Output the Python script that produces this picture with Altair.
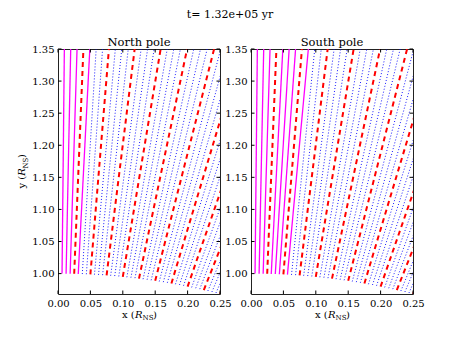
import altair as alt
import pandas as pd

suptitle = "t= 1.32e+05 yr"
panel_titles = ["North pole", "South pole"]

# field-line footpoints on the stellar surface and crossing x at y = 1.35
foot_x = [0.00625, 0.0125, 0.01875, 0.025, 0.03125, 0.0375, 0.04375, 0.05,
          0.05625, 0.0625, 0.06875, 0.075, 0.08125, 0.0875, 0.09375, 0.1,
          0.10625, 0.1125, 0.11875, 0.125, 0.13125, 0.1375, 0.14375, 0.15,
          0.15625, 0.1625, 0.16875, 0.175, 0.18125, 0.1875, 0.19375, 0.2,
          0.20625, 0.2125, 0.21875, 0.225, 0.23125, 0.2375, 0.24375, 0.25]
foot_y = [1.0000, 0.9999, 0.9998, 0.9997, 0.9995, 0.9993, 0.9990, 0.9987,
          0.9984, 0.9980, 0.9976, 0.9972, 0.9967, 0.9962, 0.9956, 0.9950,
          0.9943, 0.9937, 0.9929, 0.9922, 0.9913, 0.9905, 0.9896, 0.9887,
          0.9877, 0.9867, 0.9857, 0.9846, 0.9834, 0.9823, 0.9811, 0.9798,
          0.9785, 0.9772, 0.9758, 0.9744, 0.9729, 0.9714, 0.9698, 0.9682]
top_x = [0.0098, 0.0196, 0.0294, 0.0392, 0.0491, 0.0589, 0.0688, 0.0786,
         0.0885, 0.0984, 0.1084, 0.1183, 0.1283, 0.1383, 0.1484, 0.1584,
         0.1686, 0.1787, 0.1889, 0.1992, 0.2095, 0.2199, 0.2302, 0.2409,
         0.2512, 0.2619, 0.2725, 0.2833, 0.2941, 0.3050, 0.3160, 0.3271,
         0.3382, 0.3495, 0.3609, 0.3724, 0.3840, 0.3957, 0.4076, 0.4203]
top_y = [1.35] * 40

north_style = ["open", "open", "open", "mark", "open", "closed", "closed", "mark",
               "closed", "closed", "closed", "mark", "closed", "closed", "closed", "mark",
               "closed", "closed", "closed", "mark", "closed", "closed", "closed", "mark",
               "closed", "closed", "closed", "mark", "closed", "closed", "closed", "mark",
               "closed", "closed", "closed", "mark", "closed", "closed", "closed", "mark"]
south_style = ["open", "open", "open", "mark", "open", "open", "open", "mark",
               "open", "closed", "closed", "mark", "closed", "closed", "closed", "mark",
               "closed", "closed", "closed", "mark", "closed", "closed", "closed", "mark",
               "closed", "closed", "closed", "mark", "closed", "closed", "closed", "mark",
               "closed", "closed", "closed", "mark", "closed", "closed", "closed", "mark"]

x_ticks = [0.0, 0.05, 0.10, 0.15, 0.20, 0.25]
y_ticks = [1.00, 1.05, 1.10, 1.15, 1.20, 1.25, 1.30, 1.35]

W, H = 162, 245
FONT = "DejaVu Serif"
xscale = alt.Scale(domain=[0.0, 0.25], nice=False, zero=False)
yscale = alt.Scale(domain=[0.9682, 1.35], nice=False, zero=False)
xaxis = alt.Axis(values=x_ticks, format=".2f", title=None, labelOverlap=False, labelFlush=False)
yaxis = alt.Axis(values=y_ticks, format=".2f", title=None, labelOverlap=False, labelFlush=False)


def lines_df(styles):
    rows = []
    for i in range(len(foot_x)):
        rows.append({"line": i, "x": foot_x[i], "y": foot_y[i], "style": styles[i]})
        rows.append({"line": i, "x": top_x[i], "y": top_y[i], "style": styles[i]})
    return pd.DataFrame(rows)


def text_layer(txt, x, y, size=10, style="normal", angle=0, align="left", baseline="alphabetic"):
    return alt.Chart(alt.Data(values=[{"a": 1}])).mark_text(
        text=txt, font=FONT, fontSize=size, fontStyle=style, angle=angle,
        align=align, baseline=baseline, color="black"
    ).encode(x=alt.value(x), y=alt.value(y))


def panel(styles, title, left):
    df = lines_df(styles)
    base = alt.Chart(df)
    enc = dict(
        x=alt.X("x:Q", scale=xscale, axis=xaxis),
        y=alt.Y("y:Q", scale=yscale, axis=yaxis),
        detail="line:N",
        order=alt.Order("y:Q"),
    )
    blue = base.transform_filter(alt.datum.style == "closed").mark_line(
        color="#0000ff", strokeWidth=0.9, strokeDash=[1, 2], clip=True).encode(**enc)
    mag = base.transform_filter(alt.datum.style == "open").mark_line(
        color="#ff00ff", strokeWidth=1.3, clip=True).encode(**enc)
    red = base.transform_filter(alt.datum.style == "mark").mark_line(
        color="#ff0000", strokeWidth=2, strokeDash=[5, 4], clip=True).encode(**enc)

    xt = alt.Chart(pd.DataFrame({"x": x_ticks}))
    yt = alt.Chart(pd.DataFrame({"y": y_ticks}))
    tb = xt.mark_rule(color="black", strokeWidth=1).encode(
        x=alt.X("x:Q", scale=xscale, axis=xaxis), y=alt.value(H), y2=alt.value(H - 3.5))
    tt = xt.mark_rule(color="black", strokeWidth=1).encode(
        x=alt.X("x:Q", scale=xscale, axis=xaxis), y=alt.value(0), y2=alt.value(3.5))
    tl = yt.mark_rule(color="black", strokeWidth=1).encode(
        y=alt.Y("y:Q", scale=yscale, axis=yaxis), x=alt.value(0), x2=alt.value(3.5))
    tr = yt.mark_rule(color="black", strokeWidth=1).encode(
        y=alt.Y("y:Q", scale=yscale, axis=yaxis), x=alt.value(W), x2=alt.value(W - 3.5))

    layers = [blue, mag, red, tb, tt, tl, tr,
              text_layer(title, W / 2, -3, size=11.5, align="center"),
              text_layer("x (", 64, 269),
              text_layer("R", 77, 269, style="italic"),
              text_layer("NS", 84.5, 271, size=7),
              text_layer(")", 95, 269)]
    if left:
        layers += [
            text_layer(suptitle, 229 - 57, -31, size=11, align="center"),
            text_layer("y (", -33, 139.5, angle=270),
            text_layer("R", -33, 126.8, angle=270, style="italic"),
            text_layer("NS", -30.5, 119.5, angle=270, size=7),
            text_layer(")", -33, 109, angle=270),
            alt.Chart(alt.Data(values=[{"a": 1}])).mark_rule(strokeOpacity=0, strokeWidth=0).encode(
                x=alt.value(-49), y=alt.value(-39.5), y2=alt.value(-38)),
        ]
    return alt.layer(*layers).properties(width=W, height=H)


chart = alt.hconcat(panel(north_style, panel_titles[0], True),
                    panel(south_style, panel_titles[1], False),
                    spacing=31, bounds="flush").properties(padding=0).configure_view(
    stroke="#222222", strokeWidth=1
).configure_axis(
    labelFont=FONT, labelFontSize=10, labelColor="black", ticks=False, domain=False,
    grid=False, labelPadding=4
)

chart.save("out.html", embed_options={"renderer": "svg", "actions": False})
